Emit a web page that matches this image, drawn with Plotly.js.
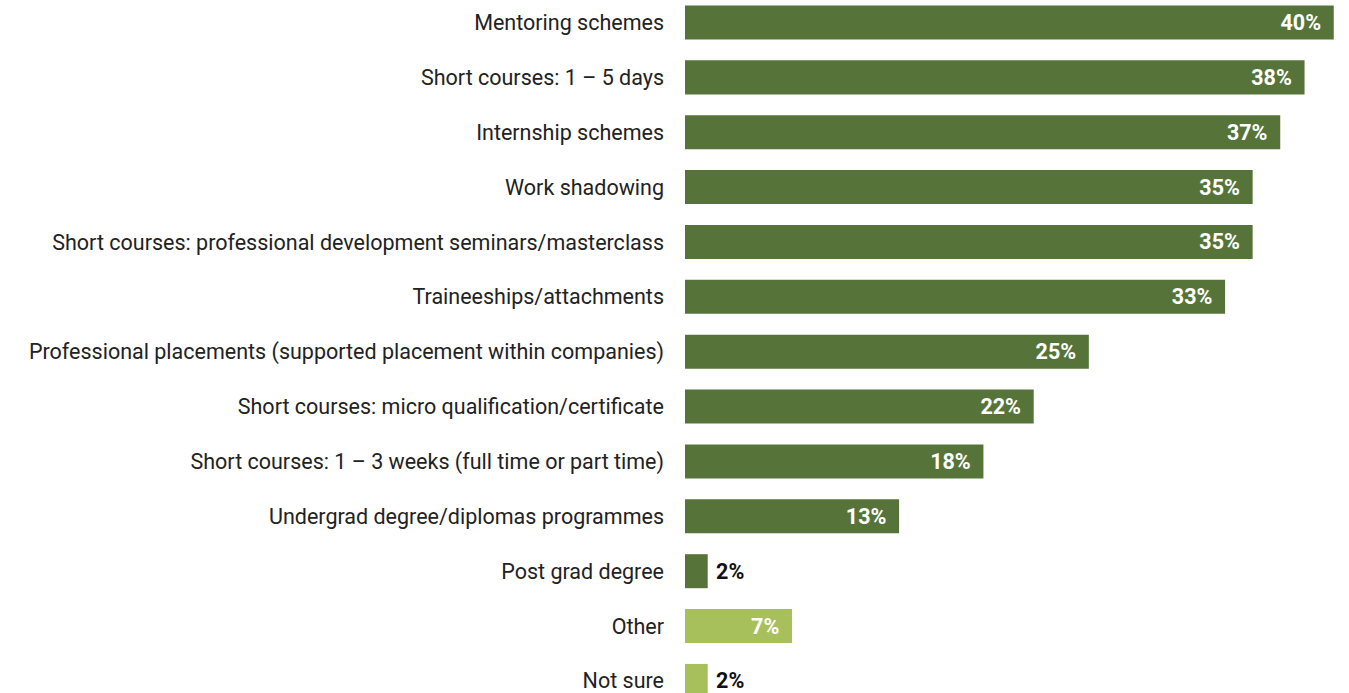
<!DOCTYPE html>
<html><head><meta charset="utf-8">
<script src="https://cdn.plot.ly/plotly-3.0.1.min.js"></script>
<style>html,body{margin:0;padding:0;background:#fff}#chart{width:1349px;height:693px}</style>
</head><body><div id="chart"></div>
<script>
const categories = [
  "Mentoring schemes",
  "Short courses: 1 – 5 days",
  "Internship schemes",
  "Work shadowing",
  "Short courses: professional development seminars/masterclass",
  "Traineeships/attachments",
  "Professional placements (supported placement within companies)",
  "Short courses: micro qualification/certificate",
  "Short courses: 1 – 3 weeks (full time or part time)",
  "Undergrad degree/diplomas programmes",
  "Post grad degree",
  "Other",
  "Not sure"
];
const values = [40, 38.2, 36.7, 35, 35, 33.3, 24.9, 21.5, 18.4, 13.2, 1.4, 6.6, 1.4];
const valueLabels = ["40%","38%","37%","35%","35%","33%","25%","22%","18%","13%","2%","7%","2%"];
const groups = ["main","main","main","main","main","main","main","main","main","main","main","other","other"];

const colorMap = {main: "#56743a", other: "#a8c05c"};
const FONT = "Roboto, sans-serif";
const positions = values.map(v => v < 3 ? "outside" : "inside");
const texts = valueLabels.map((t, i) => positions[i] === "inside" ? t + "\u00a0\u2009" : "\u00a0" + t);

const trace = {
  type: "bar",
  orientation: "h",
  y: categories,
  x: values,
  width: 0.62,
  marker: {color: groups.map(g => colorMap[g]), line: {width: 0}},
  text: texts,
  textposition: positions,
  insidetextanchor: "end",
  cliponaxis: false,
  insidetextfont: {family: FONT, size: 21.5, color: "#ffffff", weight: 700},
  outsidetextfont: {family: FONT, size: 21.5, color: "#111111", weight: 700},
  textangle: 0,
  hoverinfo: "none"
};

const layout = {
  width: 1349, height: 693,
  margin: {l: 685, r: 0, t: 0, b: 0},
  paper_bgcolor: "#ffffff", plot_bgcolor: "#ffffff",
  showlegend: false,
  font: {family: FONT, size: 21.5, color: "#222222"},
  xaxis: {range: [0, 40.94], visible: false, showgrid: false, zeroline: false, fixedrange: true},
  yaxis: {
    type: "category",
    range: [12.22, -0.41],
    showgrid: false, zeroline: false, showline: false,
    ticks: "", ticklabelstandoff: 20,
    tickfont: {family: FONT, size: 21.5, color: "#222222"},
    fixedrange: true
  },
  uniformtext: {mode: false}
};

Plotly.newPlot("chart", [trace], layout, {displayModeBar: false, staticPlot: true});
</script>
</body></html>
